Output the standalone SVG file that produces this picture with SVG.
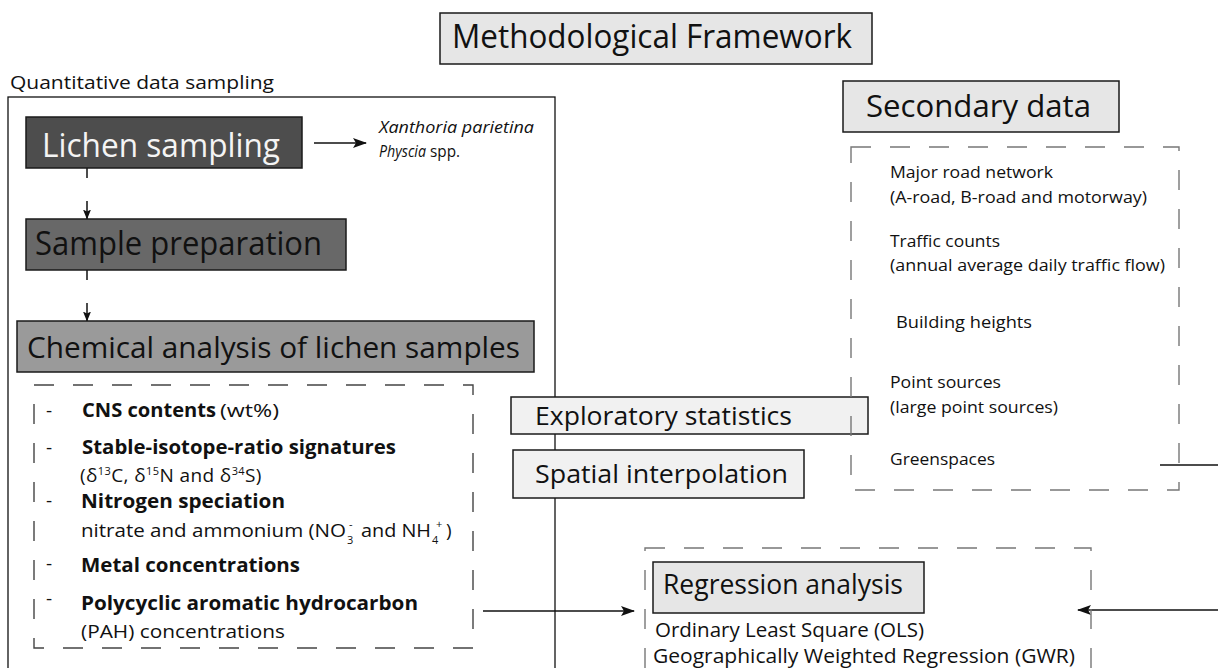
<svg xmlns="http://www.w3.org/2000/svg" width="1218" height="668" viewBox="0 0 1218 668">
  <defs>
    <style>
      text { font-family: "Open Sans", "Liberation Sans", sans-serif; fill: #111; }
      .box { stroke: #1a1a1a; stroke-width: 1.5; }
      .light { fill: #e6e6e6; }
      .pale { fill: #f1f1f1; }
      .dash { fill: none; stroke: #444; stroke-width: 1.4; stroke-dasharray: 20 19; }
      .dash-grey { fill: none; stroke: #777; stroke-width: 1.4; stroke-dasharray: 20 19; }
      .wire { fill: none; stroke: #111; stroke-width: 1.5; }
      .b { font-weight: 700; }
      .it { font-style: italic; }
      .item { font-size: 19px; }
      .sup { font-size: 11px; }
      .src { font-size: 16.5px; }
    </style>
    <marker id="head" viewBox="0 0 14 10" refX="13" refY="5" markerWidth="14" markerHeight="10" markerUnits="userSpaceOnUse" orient="auto">
      <path d="M0,0 L14,5 L0,10 L3,5 z" fill="#111"/>
    </marker>
    <marker id="head-s" viewBox="0 0 10 8" refX="9.5" refY="4" markerWidth="10" markerHeight="8" markerUnits="userSpaceOnUse" orient="auto">
      <path d="M0,0 L10,4 L0,8 L2,4 z" fill="#111"/>
    </marker>
  </defs>

  <rect width="1218" height="668" fill="#fff"/>

  <!-- title -->
  <g id="title">
    <rect class="box light" x="440" y="13" width="432" height="51"/>
    <text x="452" y="48" font-size="32" textLength="400" lengthAdjust="spacingAndGlyphs">Methodological Framework</text>
  </g>

  <!-- left frame: field and lab work -->
  <g id="quantitative-frame">
    <text x="10" y="89" font-size="19" textLength="264" lengthAdjust="spacingAndGlyphs">Quantitative data sampling</text>
    <rect x="8" y="97" width="547" height="620" fill="none" stroke="#111" stroke-width="1.3"/>
  </g>

  <g id="connectors">
    <!-- lichen sampling to species -->
    <line class="wire" x1="314" y1="143" x2="366" y2="143" marker-end="url(#head)"/>
    <!-- sampling to preparation -->
    <line class="wire" x1="87" y1="168" x2="87" y2="178"/>
    <line class="wire" x1="87" y1="201" x2="87" y2="219" marker-end="url(#head-s)"/>
    <!-- preparation to chemical analysis -->
    <line class="wire" x1="87" y1="270" x2="87" y2="280"/>
    <line class="wire" x1="87" y1="303" x2="87" y2="321" marker-end="url(#head-s)"/>
    <!-- analyses to regression -->
    <line class="wire" x1="483" y1="611" x2="634" y2="611" marker-end="url(#head)"/>
    <!-- secondary data to regression -->
    <line class="wire" x1="1160" y1="465" x2="1218" y2="465"/>
    <line class="wire" x1="1218" y1="610" x2="1078" y2="610" marker-end="url(#head)"/>
  </g>

  <g id="lichen-sampling">
    <rect class="box" x="26" y="117" width="276" height="51" fill="#4d4d4d"/>
    <text x="42" y="157" font-size="33" style="fill:#f4f4f4" textLength="238" lengthAdjust="spacingAndGlyphs">Lichen sampling</text>
  </g>

  <g id="species">
    <text class="it" x="379" y="133" font-size="16" textLength="155" lengthAdjust="spacingAndGlyphs">Xanthoria parietina</text>
    <text class="it" x="379" y="157" font-size="16" textLength="47" lengthAdjust="spacingAndGlyphs">Physcia</text>
    <text x="430" y="157" font-size="16" textLength="30" lengthAdjust="spacingAndGlyphs">spp.</text>
  </g>

  <g id="sample-preparation">
    <rect class="box" x="26" y="219" width="320" height="51" fill="#686868"/>
    <text x="35" y="255" font-size="33" textLength="287" lengthAdjust="spacingAndGlyphs">Sample preparation</text>
  </g>

  <g id="chemical-analysis">
    <rect class="box" x="17" y="321" width="517" height="51" fill="#9a9a9a"/>
    <text x="27" y="358" font-size="30" textLength="493" lengthAdjust="spacingAndGlyphs">Chemical analysis of lichen samples</text>
  </g>

  <g id="analyses">
    <rect class="dash" x="34" y="385" width="439" height="263"/>
    <g class="item">
      <text x="46" y="417">-</text>
      <text x="46" y="454">-</text>
      <text x="46" y="507">-</text>
      <text x="46" y="570">-</text>
      <text x="46" y="605">-</text>

      <text class="b" x="82" y="417" textLength="134" lengthAdjust="spacingAndGlyphs">CNS contents</text>
      <text x="220" y="417" textLength="59" lengthAdjust="spacingAndGlyphs">(wt%)</text>

      <text class="b" x="82" y="454" textLength="314" lengthAdjust="spacingAndGlyphs">Stable-isotope-ratio signatures</text>
      <text x="80" y="482" letter-spacing="0.4">(δ<tspan class="sup" dy="-7">13</tspan><tspan dy="7">C, δ</tspan><tspan class="sup" dy="-7">15</tspan><tspan dy="7">N and δ</tspan><tspan class="sup" dy="-7">34</tspan><tspan dy="7">S)</tspan></text>

      <text class="b" x="81" y="508" textLength="204" lengthAdjust="spacingAndGlyphs">Nitrogen speciation</text>
      <text x="81" y="537" textLength="265" lengthAdjust="spacingAndGlyphs">nitrate and ammonium (NO</text>
      <text class="sup" x="347" y="544">3</text>
      <text class="sup" x="349" y="528">-</text>
      <text x="361" y="537" textLength="70" lengthAdjust="spacingAndGlyphs">and NH</text>
      <text class="sup" x="432" y="544">4</text>
      <text class="sup" x="436" y="528">+</text>
      <text x="446" y="537">)</text>

      <text class="b" x="81" y="572" textLength="219" lengthAdjust="spacingAndGlyphs">Metal concentrations</text>

      <text class="b" x="81" y="610" textLength="337" lengthAdjust="spacingAndGlyphs">Polycyclic aromatic hydrocarbon</text>
      <text x="81" y="638" textLength="204" lengthAdjust="spacingAndGlyphs">(PAH) concentrations</text>
    </g>
  </g>

  <g id="exploratory-statistics">
    <rect class="box pale" x="511" y="397" width="357" height="37"/>
    <text x="535" y="425" font-size="26" textLength="257" lengthAdjust="spacingAndGlyphs">Exploratory statistics</text>
  </g>

  <g id="spatial-interpolation">
    <rect class="box pale" x="513" y="450" width="291" height="48"/>
    <text x="535" y="483" font-size="26" textLength="253" lengthAdjust="spacingAndGlyphs">Spatial interpolation</text>
  </g>

  <g id="secondary-data">
    <rect class="box light" x="843" y="81" width="276" height="51"/>
    <text x="866" y="117" font-size="31" textLength="225" lengthAdjust="spacingAndGlyphs">Secondary data</text>
  </g>

  <g id="secondary-sources">
    <rect class="dash-grey" x="851" y="147" width="328" height="343"/>
    <g class="src">
      <text x="890" y="178" textLength="163" lengthAdjust="spacingAndGlyphs">Major road network</text>
      <text x="890" y="203" textLength="257" lengthAdjust="spacingAndGlyphs">(A-road, B-road and motorway)</text>
      <text x="890" y="247" textLength="110" lengthAdjust="spacingAndGlyphs">Traffic counts</text>
      <text x="890" y="271" textLength="275" lengthAdjust="spacingAndGlyphs">(annual average daily traffic flow)</text>
      <text x="896" y="328" textLength="136" lengthAdjust="spacingAndGlyphs">Building heights</text>
      <text x="890" y="388" textLength="111" lengthAdjust="spacingAndGlyphs">Point sources</text>
      <text x="890" y="413" textLength="168" lengthAdjust="spacingAndGlyphs">(large point sources)</text>
      <text x="890" y="465" textLength="105" lengthAdjust="spacingAndGlyphs">Greenspaces</text>
    </g>
  </g>

  <g id="regression">
    <rect class="dash-grey" x="645" y="548" width="446" height="160"/>
    <rect class="box light" x="653" y="562" width="271" height="51"/>
    <text x="663" y="594" font-size="28" textLength="240" lengthAdjust="spacingAndGlyphs">Regression analysis</text>
    <text x="655" y="637" font-size="20" textLength="269" lengthAdjust="spacingAndGlyphs">Ordinary Least Square (OLS)</text>
    <text x="653" y="663" font-size="20" textLength="422" lengthAdjust="spacingAndGlyphs">Geographically Weighted Regression (GWR)</text>
  </g>
</svg>
